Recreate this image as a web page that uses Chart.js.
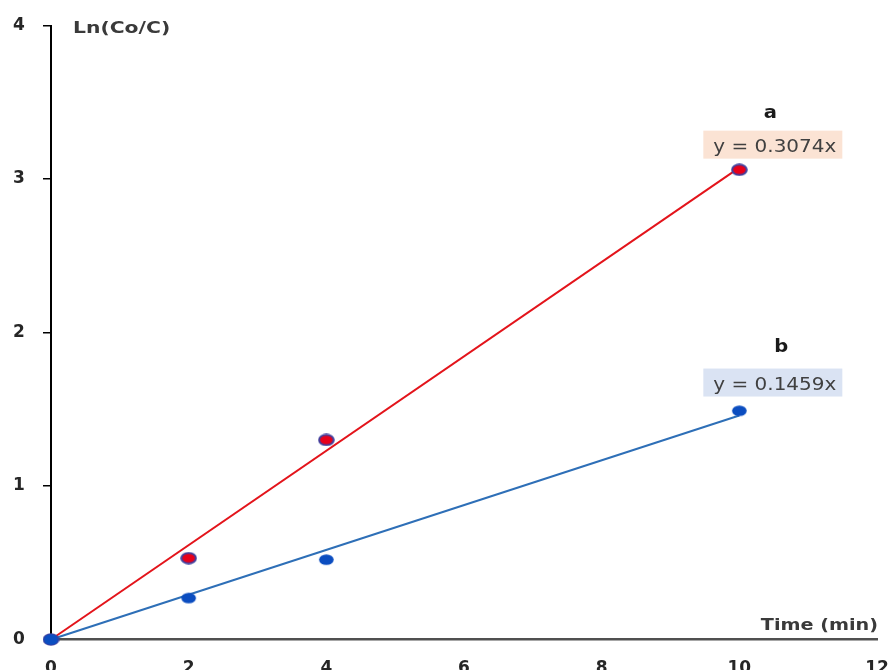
<!DOCTYPE html>
<html>
<head>
<meta charset="utf-8">
<script src="https://cdn.jsdelivr.net/npm/chart.js@4"></script>
<style>
  html, body { margin: 0; padding: 0; background: #ffffff; }
  #wrap { width: 892px; height: 670px; overflow: hidden; position: relative; }
  #c { display: block; }
</style>
</head>
<body>
<div id="wrap"><canvas id="c" width="892" height="684"></canvas></div>
<script>
// Reaction time (min) and measured ln(C0/C) for the two runs
const timeMin = [0, 2, 4, 10];
const lnA = [0, 0.53, 1.30, 3.06];
const lnB = [0, 0.27, 0.52, 1.49];

// Linear fits through the origin
const slopeA = 0.3074;
const slopeB = 0.1459;
const fitEnd = 10;

const xTicks = [0, 2, 4, 6, 8, 10, 12];
const yTicks = [0, 1, 2, 3, 4];

const seriesNames = ['a', 'b'];
const fitLabels = ['y = 0.3074x', 'y = 0.1459x'];

const RED = '#E3141B';
const BLUE_LINE = '#2E6FB7';
const BLUE_DOT = '#0B4DC0';

// Elliptical marker sprites
function ellipseSprite(fill, stroke) {
  const cv = document.createElement('canvas');
  cv.width = 17; cv.height = 13;
  const g = cv.getContext('2d');
  g.beginPath();
  g.ellipse(8.5, 6.5, 7.3, 5.3, 0, 0, Math.PI * 2);
  g.fillStyle = fill;
  g.fill();
  if (stroke) {
    g.lineWidth = 2;
    g.strokeStyle = stroke;
    g.stroke();
  }
  return cv;
}
const dotA = ellipseSprite('#E8001A', '#40409E');
const dotB = ellipseSprite(BLUE_DOT, null);

const pts = (ys) => timeMin.map((t, i) => ({ x: t, y: ys[i] }));
const fit = (k) => [{ x: 0, y: 0 }, { x: fitEnd, y: k * fitEnd }];

function stretchedText(ctx, text, x, y, align, sx) {
  ctx.save();
  ctx.translate(x, y);
  ctx.scale(sx, 1);
  ctx.textAlign = align;
  ctx.fillText(text, 0, 0);
  ctx.restore();
}

// Axis titles and fit-equation boxes
const annotations = {
  id: 'annotations',
  afterDatasetsDraw(chart) {
    const ctx = chart.ctx;
    const xs = chart.scales.x, ys = chart.scales.y;
    ctx.save();
    ctx.textBaseline = 'alphabetic';
    ctx.fillStyle = '#3a3a3a';
    ctx.font = 'bold 16px "DejaVu Sans"';
    stretchedText(ctx, 'Ln(Co/C)', xs.left + 22, ys.top + 7, 'left', 1.27);
    stretchedText(ctx, 'Time (min)', xs.right + 1, ys.bottom - 10, 'right', 1.2);

    const boxes = [
      { slope: slopeA, fill: '#FBE3D4', dx: -36, dy: -37, nameDx: 31, nameDy: -13 },
      { slope: slopeB, fill: '#DAE3F3', dx: -36, dy: -47, nameDx: 42, nameDy: -17 }
    ];
    boxes.forEach((b, i) => {
      const px = xs.getPixelForValue(fitEnd);
      const py = ys.getPixelForValue(b.slope * fitEnd);
      const left = px + b.dx, top = py + b.dy, w = 139, h = 28;
      ctx.fillStyle = b.fill;
      ctx.fillRect(left, top, w, h);
      ctx.fillStyle = '#404040';
      ctx.font = '18px "DejaVu Sans"';
      stretchedText(ctx, fitLabels[i], left + w / 2 + 2, top + h / 2 + 7, 'center', 1.11);
      ctx.fillStyle = '#1a1a1a';
      ctx.font = 'bold 17px "DejaVu Sans"';
      stretchedText(ctx, seriesNames[i], px + b.nameDx, top + b.nameDy, 'center', 1.15);
    });
    ctx.restore();
  }
};

new Chart(document.getElementById('c'), {
  data: {
    datasets: [
      { type: 'scatter', label: 'b', data: pts(lnB), pointStyle: dotB, pointRadius: 7, order: 0, clip: false },
      { type: 'scatter', label: 'a', data: pts(lnA), pointStyle: dotA, pointRadius: 7, order: 1, clip: false },
      { type: 'line', label: 'fit a', data: fit(slopeA), borderColor: RED, borderWidth: 2, pointRadius: 0, order: 2, clip: false },
      { type: 'line', label: 'fit b', data: fit(slopeB), borderColor: BLUE_LINE, borderWidth: 2, pointRadius: 0, order: 3, clip: false }
    ]
  },
  options: {
    responsive: false,
    animation: false,
    devicePixelRatio: 1,
    layout: { padding: { top: 25.5, right: 15, left: 13, bottom: 0 } },
    plugins: { legend: { display: false }, tooltip: { enabled: false } },
    scales: {
      x: {
        type: 'linear', min: 0, max: 12,
        afterFit: (s) => { s.height = 44.5; },
        afterBuildTicks: (s) => { s.ticks = xTicks.map(v => ({ value: v })); },
        grid: { display: false, drawTicks: true, tickLength: 19 },
        border: { display: true, color: '#505050', width: 2.5 },
        ticks: { padding: 0, color: '#262626', font: { family: 'DejaVu Sans', size: 17, weight: 'bold' } }
      },
      y: {
        type: 'linear', min: 0, max: 4,
        afterFit: (s) => { s.width = 38; },
        afterBuildTicks: (s) => { s.ticks = yTicks.map(v => ({ value: v })); },
        grid: {
          drawOnChartArea: false, drawTicks: true, tickLength: 8, lineWidth: 1.5,
          color: (c) => (c.tick && c.tick.value === 0) ? 'rgba(0,0,0,0)' : '#000000'
        },
        border: { display: true, color: '#000000', width: 2 },
        ticks: { padding: 0, crossAlign: 'far', color: '#262626', font: { family: 'DejaVu Sans', size: 17, weight: 'bold' } }
      }
    }
  },
  plugins: [annotations]
});
</script>
</body>
</html>
